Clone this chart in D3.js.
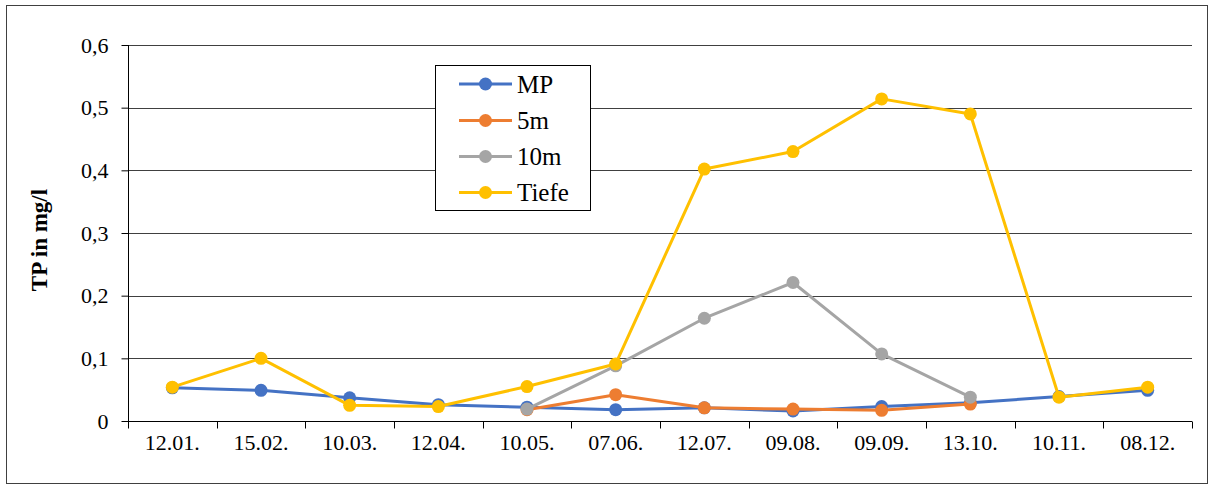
<!DOCTYPE html>
<html><head><meta charset="utf-8">
<script src="https://cdn.jsdelivr.net/npm/d3@7"></script>
<style>body{margin:0;background:#fff}svg{display:block}
svg text{font-family:"Liberation Serif","Times New Roman",Times,"DejaVu Serif",serif !important;fill:#000}</style>
</head><body>
<svg id="c" width="1214" height="486"></svg>
<script>
const categories = ["12.01.","15.02.","10.03.","12.04.","10.05.","07.06.","12.07.","09.08.","09.09.","13.10.","10.11.","08.12."];
const mp    = [0.053,0.049,0.037,0.026,0.022,0.018,0.021,0.016,0.023,0.029,0.039,0.049];
const m5    = [null,null,null,null,0.018,0.042,0.021,0.019,0.017,0.027,null,null];
const m10   = [null,null,null,null,0.019,0.088,0.164,0.221,0.107,0.038,null,null];
const tiefe = [0.054,0.100,0.025,0.023,0.055,0.091,0.402,0.430,0.514,0.490,0.038,0.054];
const yTicks = [0,0.1,0.2,0.3,0.4,0.5,0.6];
const seriesNames = ["MP","5m","10m","Tiefe"];
const seriesColors = ["#4472C4","#ED7D31","#A5A5A5","#FFC000"];
const seriesData = [mp,m5,m10,tiefe];

const svg = d3.select("#c");
const L=128,R=1192,T=45,B=421;
svg.append("rect").attr("x",6.5).attr("y",5.5).attr("width",1201).attr("height",478)
  .attr("fill","none").attr("stroke","#404040").attr("stroke-width",1);

const x = d3.scaleBand().domain(categories).range([L,R]);
const y = d3.scaleLinear().domain([0,0.6]).range([B,T]);
const fmt = d => d===0 ? "0" : d3.format(".1f")(d).replace(".",",");

// gridlines
svg.append("g").selectAll("line").data(yTicks.filter(d=>d>0)).join("line")
  .attr("x1",L).attr("x2",R).attr("y1",d=>Math.round(y(d))+0.5).attr("y2",d=>Math.round(y(d))+0.5)
  .attr("stroke","#404040").attr("stroke-width",1);

// y axis
const ya = svg.append("g").attr("transform",`translate(${L+0.5},0)`)
  .call(d3.axisLeft(y).tickValues(yTicks).tickFormat(fmt).tickSize(7).tickPadding(13));
ya.select(".domain").attr("stroke","#000").attr("d",`M0,${B}V${T}`);
ya.selectAll(".tick line").attr("stroke","#000");
ya.selectAll("text").attr("font-size",22);

// x axis
const xa = svg.append("g").attr("transform",`translate(0,${B+0.5})`)
  .call(d3.axisBottom(x).tickSize(0).tickPadding(13));
xa.select(".domain").attr("stroke","#000").attr("d",`M${L},0H${R}`);
xa.selectAll("text").attr("font-size",22);
const bounds = categories.map(c=>x(c)).concat([R]);
xa.selectAll(".bt").data(bounds).join("line").attr("class","bt")
  .attr("x1",d=>Math.round(d)+0.5).attr("x2",d=>Math.round(d)+0.5).attr("y1",0).attr("y2",7)
  .attr("stroke","#000");

// y title
svg.append("text").attr("transform",`translate(47,240) rotate(-90)`)
  .attr("text-anchor","middle").attr("font-weight","bold")
  .attr("font-size",23).text("TP in mg/l");

// series
const cx = c => x(c)+x.bandwidth()/2;
seriesData.forEach((arr,i)=>{
  const pts = categories.map((c,j)=>({c,v:arr[j]})).filter(d=>d.v!==null);
  svg.append("path").datum(pts).attr("fill","none").attr("stroke",seriesColors[i])
    .attr("stroke-width",3).attr("stroke-linejoin","round")
    .attr("d",d3.line().x(d=>cx(d.c)).y(d=>y(d.v)));
  svg.append("g").selectAll("circle").data(pts).join("circle")
    .attr("cx",d=>cx(d.c)).attr("cy",d=>y(d.v)).attr("r",6.5).attr("fill",seriesColors[i]);
});

// legend
const lg = svg.append("g");
lg.append("rect").attr("x",435.5).attr("y",65.5).attr("width",155).attr("height",145)
  .attr("fill","#fff").attr("stroke","#000").attr("stroke-width",1);
const rowY = [84,120.5,156.5,192.5];
seriesNames.forEach((n,i)=>{
  lg.append("line").attr("x1",459).attr("x2",512).attr("y1",rowY[i]).attr("y2",rowY[i])
    .attr("stroke",seriesColors[i]).attr("stroke-width",3);
  lg.append("circle").attr("cx",485.5).attr("cy",rowY[i]).attr("r",6.5).attr("fill",seriesColors[i]);
  lg.append("text").attr("x",517).attr("y",rowY[i]).attr("dy","0.35em")
    .attr("font-size",25).text(n);
});
</script>
</body></html>
